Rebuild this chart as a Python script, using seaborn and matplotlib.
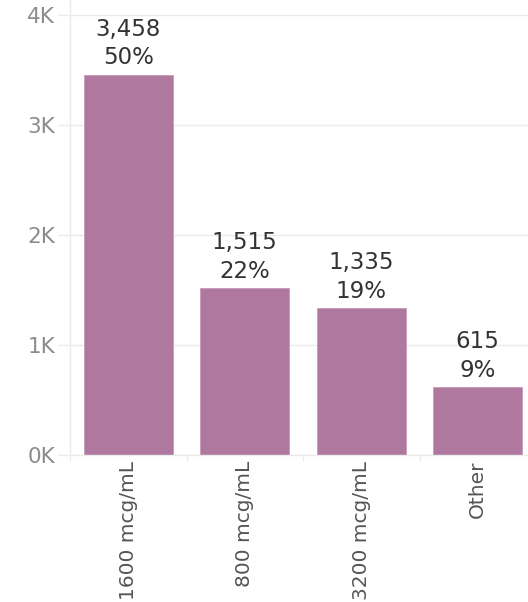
import matplotlib
matplotlib.use("Agg")
import matplotlib.pyplot as plt
import seaborn as sns
import pandas as pd
from matplotlib.ticker import FixedLocator

categories = ["1600 mcg/mL", "800 mcg/mL", "3200 mcg/mL", "Other"]
counts = [3458, 1515, 1335, 615]
percents = ["50%", "22%", "19%", "9%"]
ytick_values = [0, 1000, 2000, 3000, 4000]
ytick_labels = ["0K", "1K", "2K", "3K", "4K"]

df = pd.DataFrame({"category": categories, "count": counts})

sns.set_theme(style="white")
plt.rcParams["font.family"] = ["DejaVu Sans"]

W, H = 528, 602
fig = plt.figure(figsize=(W / 100, H / 100), dpi=100)
ax = fig.add_axes([70 / W, (H - 455) / H, 466 / W, 455 / H])

bar_color = "#B0789E"
sns.barplot(data=df, x="category", y="count", color=bar_color, width=0.76,
            saturation=1, ax=ax, edgecolor="#C79BB9", linewidth=0.6)

ax.set_xlim(-0.5, 3.5)
ax.set_ylim(0, 455 / 110 * 1000)

grid_col = "#EBEBEB"
ax.set_yticks(ytick_values)
ax.set_yticklabels(ytick_labels)
ax.yaxis.grid(True, color=grid_col, linewidth=1)
ax.set_axisbelow(True)
ax.tick_params(axis="y", length=8.6, width=1, color=grid_col, pad=2,
               labelsize=15.5, labelcolor="#8C8C8C", left=True)

ax.set_xticks(range(len(categories)))
ax.set_xticklabels(categories, rotation=90, va="top", ha="center")
ax.tick_params(axis="x", which="major", length=0, pad=4, labelsize=14.5,
               labelcolor="#555555")
ax.xaxis.set_minor_locator(FixedLocator([-0.5, 0.5, 1.5, 2.5]))
ax.tick_params(axis="x", which="minor", length=4.5, width=1, color=grid_col,
               bottom=True)

for s in ["top", "right"]:
    ax.spines[s].set_visible(False)
ax.spines["left"].set_color(grid_col)
ax.spines["bottom"].set_color(grid_col)
ax.spines["left"].set_linewidth(1)
ax.spines["bottom"].set_linewidth(1)
ax.set_xlabel("")
ax.set_ylabel("")

for i, (c, p) in enumerate(zip(counts, percents)):
    ax.annotate(f"{c:,}\n{p}", xy=(i, c), xytext=(0, 4), textcoords="offset points",
                ha="center", va="bottom", fontsize=16.5, color="#333333",
                linespacing=1.3, annotation_clip=False)

fig.savefig("out.png", dpi=100)
